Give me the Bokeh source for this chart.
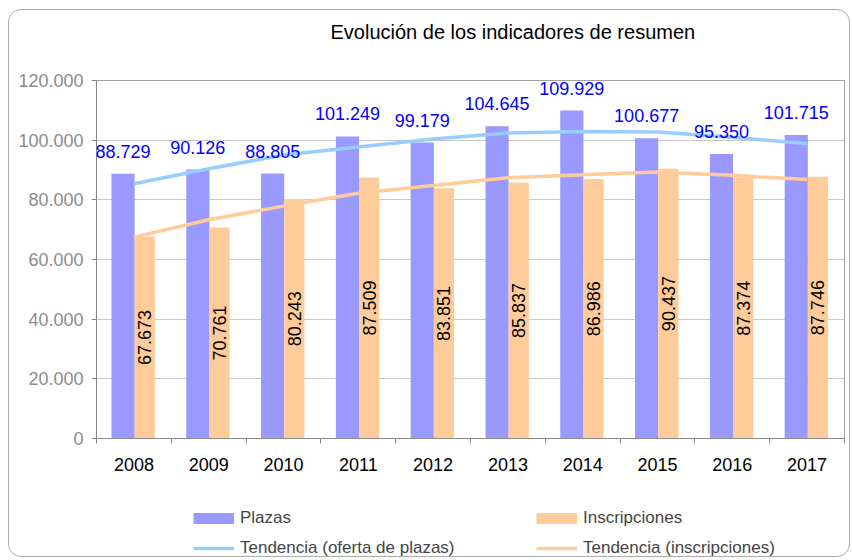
import numpy as np
from bokeh.plotting import figure
from bokeh.layouts import column
from bokeh.models import (ColumnDataSource, FixedTicker, LabelSet, Legend,
                          LegendItem, Range1d, Title, InlineStyleSheet)
from bokeh.transform import dodge
from bokeh.core.properties import value
from bokeh.embed import file_html
from bokeh.resources import INLINE

# ---------------- data ----------------
years = [2008, 2009, 2010, 2011, 2012, 2013, 2014, 2015, 2016, 2017]
plazas = [88729, 90126, 88805, 101249, 99179, 104645, 109929, 100677, 95350, 101715]
inscripciones = [67673, 70761, 80243, 87509, 83851, 85837, 86986, 90437, 87374, 87746]
tendencia_plazas = [85400, 90400, 95000, 97700, 100400, 102400, 102900, 102700, 101000, 98800]
tendencia_inscripciones = [67500, 73300, 77900, 82200, 84800, 87400, 88400, 89300, 88200, 86800]
y_ticks = [0, 20000, 40000, 60000, 80000, 100000, 120000]
y_tick_labels = ["0", "20.000", "40.000", "60.000", "80.000", "100.000", "120.000"]
title_text = "Evolución de los indicadores de resumen"
legend_labels = ["Plazas", "Inscripciones", "Tendencia (oferta de plazas)", "Tendencia (inscripciones)"]

FONT = "Liberation Sans"
C_PLAZAS = "#9999FF"
C_INSC = "#FFCC99"
C_TP = "#99CCFF"
C_TI = "#FFCC99"


def fmt(v):
    return f"{v:,}".replace(",", ".")


src = ColumnDataSource(dict(
    year=years,
    plazas=plazas,
    insc=inscripciones,
    insc_mid=[v / 2 for v in inscripciones],
    plazas_lbl=[fmt(v) for v in plazas],
    insc_lbl=[fmt(v) for v in inscripciones],
    tp=tendencia_plazas,
    ti=tendencia_inscripciones,
))

# ---------------- main chart ----------------
p = figure(width=852, height=480, output_backend="svg", toolbar_location=None,
           x_range=Range1d(years[0] - 0.5, years[-1] + 0.5),
           y_range=Range1d(y_ticks[0], y_ticks[-1]),
           min_border_left=96, min_border_right=8, min_border_top=80,
           min_border_bottom=42, title=title_text)

p.vbar(x=dodge("year", -0.145, range=p.x_range), top="plazas", width=0.31,
       source=src, fill_color=C_PLAZAS, line_color=None)
p.vbar(x=dodge("year", 0.145, range=p.x_range), top="insc", width=0.27,
       source=src, fill_color=C_INSC, line_color=None)

p.line("year", "tp", source=src, line_color=C_TP, line_width=3.5)
p.line("year", "ti", source=src, line_color=C_TI, line_width=3.5)

p.add_layout(LabelSet(x=dodge("year", -0.145, range=p.x_range), y="plazas",
                      text="plazas_lbl", source=src, text_align="center",
                      text_baseline="alphabetic", y_offset=16,
                      text_color="#0000FF", text_font=value(FONT),
                      text_font_size="18px"))
p.add_layout(LabelSet(x=dodge("year", 0.145, range=p.x_range), y="insc_mid",
                      text="insc_lbl", source=src, angle=np.pi / 2,
                      text_align="center", text_baseline="middle",
                      text_color="#000000", text_font=value(FONT),
                      text_font_size="18px"))

p.xaxis.ticker = FixedTicker(ticks=years,
                             minor_ticks=[y - 0.5 for y in years] + [years[-1] + 0.5])
p.xaxis.major_label_overrides = {y: str(y) for y in years}
p.xaxis.major_tick_out = 0
p.xaxis.major_tick_in = 0
p.xaxis.minor_tick_out = 5
p.xaxis.minor_tick_in = 0
p.xaxis.minor_tick_line_color = "#888888"
p.xaxis.axis_line_color = "#888888"
p.xaxis.major_label_text_font = FONT
p.xaxis.major_label_text_font_size = "18px"
p.xaxis.major_label_text_color = "#000000"
p.xaxis.major_label_standoff = 14

p.yaxis.ticker = FixedTicker(ticks=y_ticks)
p.yaxis.major_label_overrides = dict(zip(y_ticks, y_tick_labels))
p.yaxis.major_tick_out = 5
p.yaxis.major_tick_in = 0
p.yaxis.minor_tick_out = 0
p.yaxis.minor_tick_in = 0
p.yaxis.major_tick_line_color = "#888888"
p.yaxis.axis_line_color = "#888888"
p.yaxis.major_label_text_font = FONT
p.yaxis.major_label_text_font_size = "18px"
p.yaxis.major_label_text_color = "#8C8C8C"
p.yaxis.major_label_standoff = 8

p.xgrid.grid_line_color = None
p.ygrid.grid_line_color = "#C8C8C8"
p.outline_line_color = "#A0A0A0"

p.title.text_font = FONT
p.title.text_font_size = "20px"
p.title.text_font_style = "normal"
p.title.text_color = "#000000"
p.title.align = "left"
p.title.offset = 234
# spacer between the frame and the title
p.add_layout(Title(text=" ", text_font_size="19px"), "above")

# ---------------- legend strip ----------------
p2 = figure(width=852, height=80, output_backend="svg", toolbar_location=None,
            x_range=Range1d(0, 1), y_range=Range1d(0, 1),
            x_axis_location=None, y_axis_location=None, min_border=0,
            outline_line_color=None)
p2.grid.visible = False
# legend proxies (their data lies outside this strip's ranges)
g_pl = p2.line(years, plazas, line_color=C_PLAZAS, line_width=11)
g_in = p2.line(years, inscripciones, line_color=C_INSC, line_width=11)
g_tp = p2.line(years, tendencia_plazas, line_color=C_TP, line_width=3.5)
g_ti = p2.line(years, tendencia_inscripciones, line_color=C_TI, line_width=3.5)

legend = Legend(items=[
    LegendItem(label=legend_labels[0], renderers=[g_pl]),
    LegendItem(label=legend_labels[1], renderers=[g_in]),
    LegendItem(label=legend_labels[2], renderers=[g_tp]),
    LegendItem(label=legend_labels[3], renderers=[g_ti]),
], orientation="horizontal", ncols=2, location=(97, 2),
    glyph_width=41, glyph_height=20, label_width=286, label_height=20,
    label_standoff=6, spacing=10, padding=0, margin=0,
    border_line_color=None, background_fill_alpha=0,
    label_text_font=FONT, label_text_font_size="17px")
p2.add_layout(legend, "center")

# rounded chart-area border drawn over the whole page
frame_css = InlineStyleSheet(css="""
:host { position: relative; }
:host::after {
  content: ""; position: absolute; left: 8px; top: 9px;
  width: 842px; height: 548px; border: 1.5px solid #ABABAB;
  border-radius: 13px; pointer-events: none; box-sizing: border-box;
}
""")

layout = column(p, p2, spacing=0, stylesheets=[frame_css])
open("out.html", "w").write(file_html(layout, INLINE))
